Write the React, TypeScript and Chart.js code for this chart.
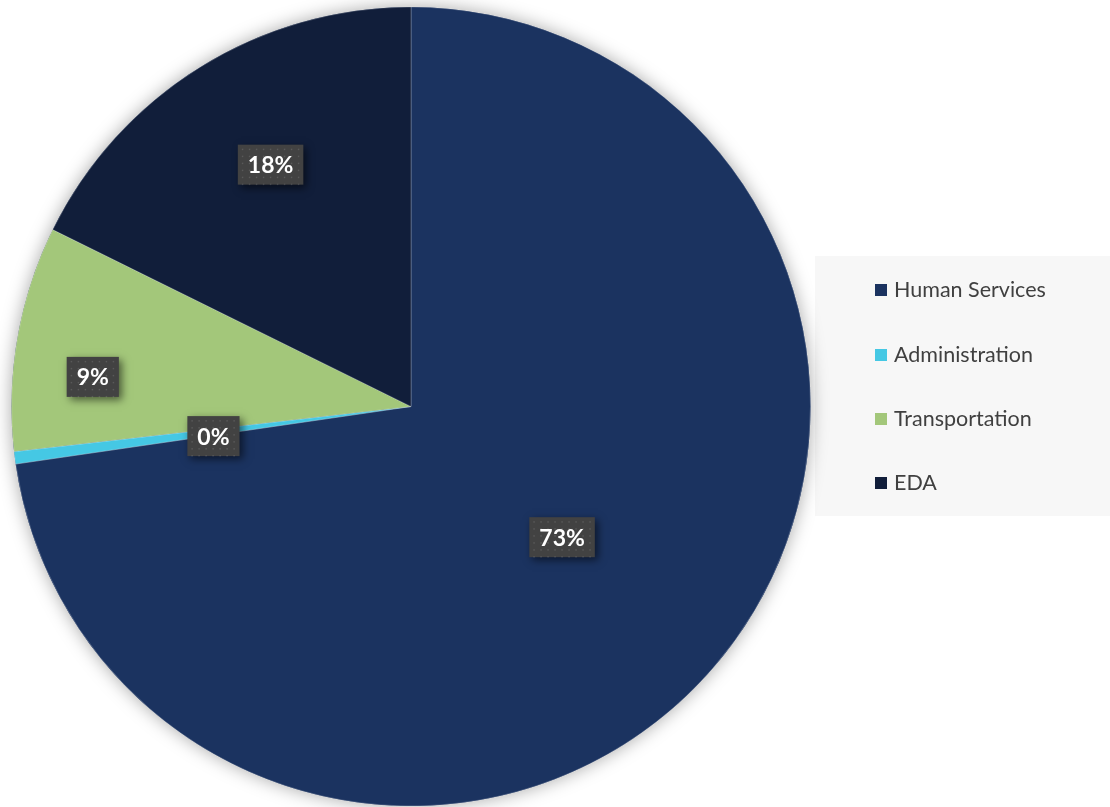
import React, { useEffect, useRef } from "react";
import { Chart, registerables } from "chart.js";

Chart.register(...registerables);

const categories = ["Human Services", "Administration", "Transportation", "EDA"];
const values = [72.7, 0.5, 9.1, 17.7];
const percentLabels = ["73%", "0%", "9%", "18%"];
const colors = ["#1B3360", "#45C8E4", "#A3C77A", "#111E3A"];
// label placement as fraction of radius (Excel best-fit style)
const labelRadius = [0.5, 0.5, 0.8, 0.7];
const labelAngleShift = [0, -0.02, -0.08, 0.03];

const FONT = "Lato, 'Open Sans', 'DejaVu Sans', sans-serif";

const pieShadow = {
  id: "pieShadow",
  beforeDatasetsDraw(chart: any) {
    const meta = chart.getDatasetMeta(0);
    const arc = meta.data[0];
    if (!arc) return;
    const { x, y, outerRadius } = arc.getProps(["x", "y", "outerRadius"], true);
    const ctx = chart.ctx;
    ctx.save();
    ctx.shadowColor = "rgba(0,0,0,0.35)";
    ctx.shadowBlur = 18;
    ctx.shadowOffsetX = 0;
    ctx.shadowOffsetY = 0;
    ctx.beginPath();
    ctx.arc(x, y, outerRadius, 0, Math.PI * 2);
    ctx.fillStyle = "#1B3360";
    ctx.fill();
    ctx.restore();
  },
};

const boxLabels = {
  id: "boxLabels",
  afterDatasetsDraw(chart: any) {
    const meta = chart.getDatasetMeta(0);
    const ctx = chart.ctx;
    ctx.save();
    ctx.font = `bold 23px ${FONT}`;
    ctx.textAlign = "center";
    ctx.textBaseline = "middle";
    meta.data.forEach((arc: any, i: number) => {
      const { x, y, startAngle, endAngle, outerRadius } = arc.getProps(
        ["x", "y", "startAngle", "endAngle", "outerRadius"],
        true
      );
      const mid = (startAngle + endAngle) / 2 + labelAngleShift[i];
      const r = outerRadius * labelRadius[i];
      const cx = x + Math.cos(mid) * r;
      const cy = y + Math.sin(mid) * r;
      const text = percentLabels[i];
      const w = ctx.measureText(text).width + 20;
      const h = 40;
      ctx.save();
      ctx.shadowColor = "rgba(0,0,0,0.55)";
      ctx.shadowBlur = 8;
      ctx.shadowOffsetX = 3;
      ctx.shadowOffsetY = 3;
      ctx.fillStyle = "#424242";
      ctx.fillRect(cx - w / 2, cy - h / 2, w, h);
      ctx.restore();
      // subtle dot texture
      ctx.fillStyle = "rgba(255,255,255,0.12)";
      for (let dx = 4; dx < w; dx += 7) {
        for (let dy = 4; dy < h; dy += 7) {
          ctx.fillRect(cx - w / 2 + dx, cy - h / 2 + dy, 1.5, 1.5);
        }
      }
      ctx.fillStyle = "#FFFFFF";
      ctx.fillText(text, cx, cy + 1);
    });
    ctx.restore();
  },
};

export default function App() {
  const ref = useRef<HTMLCanvasElement>(null);

  useEffect(() => {
    document.body.style.margin = "0";
    const chart = new Chart(ref.current!, {
      type: "pie",
      data: {
        labels: categories,
        datasets: [
          {
            data: values,
            backgroundColor: colors,
            borderColor: "rgba(255,255,255,0.22)",
            borderWidth: 1,
            hoverOffset: 0,
          },
        ],
      },
      options: {
        animation: false,
        responsive: false,
        maintainAspectRatio: false,
        layout: { padding: { left: 11, top: 6, right: 299, bottom: 0 } },
        plugins: {
          legend: { display: false },
          tooltip: { enabled: false },
          title: { display: false },
        },
      },
      plugins: [pieShadow, boxLabels],
    });
    return () => chart.destroy();
  }, []);

  return (
    <div style={{ position: "relative", width: 1110, height: 807, background: "#FFFFFF", overflow: "hidden" }}>
      <div
        style={{
          position: "absolute",
          left: 815,
          top: 256,
          width: 295,
          height: 260,
          background: "#F7F7F7",
        }}
      />
      <canvas ref={ref} width={1110} height={807} style={{ position: "absolute", left: 0, top: 0 }} />
      <div style={{ position: "absolute", left: 875, top: 257, fontFamily: FONT, fontSize: 21.5, color: "#404040" }}>
        {categories.map((c) => (
          <div key={c} style={{ display: "flex", alignItems: "center", height: 64.4 }}>
            <span style={{ display: "inline-block", width: 12, height: 12, background: colors[c === c ? categories.indexOf(c) : 0], marginRight: 7, marginTop: 2 }} />
            <span>{c}</span>
          </div>
        ))}
      </div>
    </div>
  );
}
